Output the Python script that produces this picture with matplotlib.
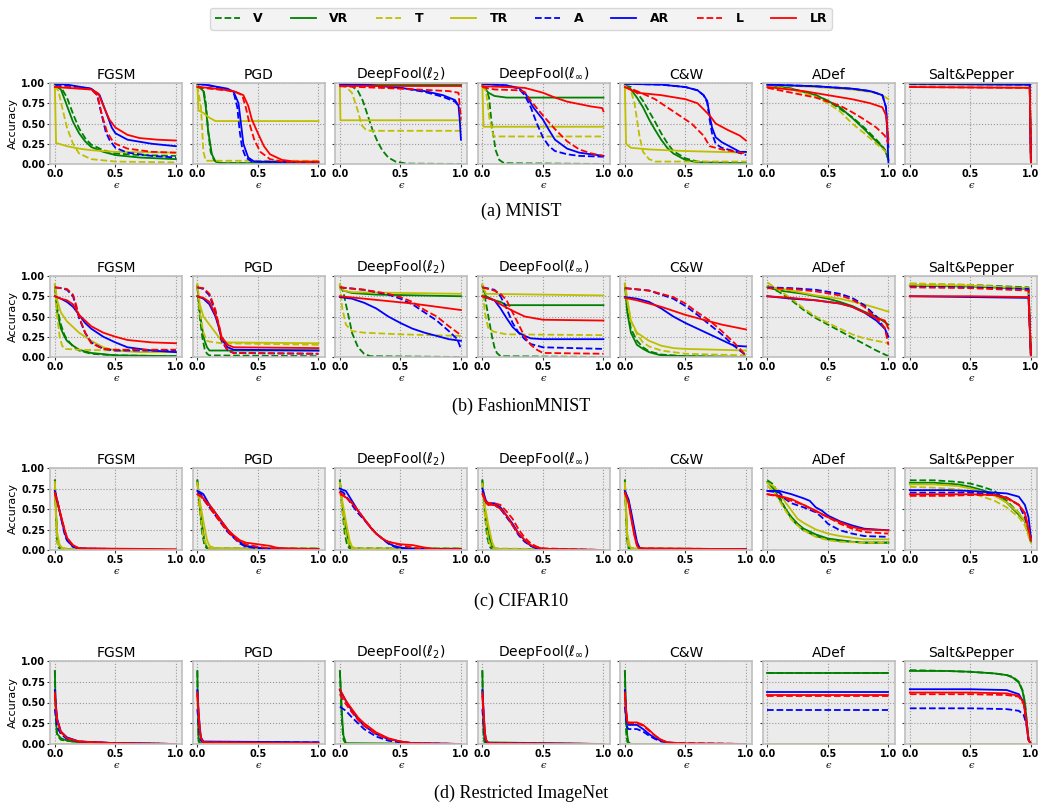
import numpy as np
import matplotlib
matplotlib.use("Agg")
import matplotlib.pyplot as plt
from matplotlib.lines import Line2D

# ---------------- data (knots: x0,y0,x1,y1,...) ----------------
series = ['V', 'VR', 'T', 'TR', 'A', 'AR', 'L', 'LR']
attacks = ['FGSM', 'PGD', r'DeepFool($\ell_2$)', r'DeepFool($\ell_\infty$)', 'C&W', 'ADef', 'Salt&Pepper']
captions = ['(a) MNIST', '(b) FashionMNIST', '(c) CIFAR10', '(d) Restricted ImageNet']

# ---- MNIST ----
mn_fgsm = dict(
    V=[0,.97, .05,.95, .1,.82, .15,.62, .2,.44, .25,.32, .3,.24, .4,.17, .5,.13, .7,.11, 1,.1],
    VR=[0,.97, .05,.92, .1,.72, .15,.52, .2,.38, .25,.28, .3,.21, .4,.15, .5,.11, .7,.08, 1,.06],
    T=[0,.97, .03,.9, .06,.7, .1,.45, .15,.25, .2,.13, .3,.06, .5,.03, 1,.02],
    TR=[0,.97, .01,.26, .1,.22, .2,.19, .3,.17, .5,.15, 1,.14],
    A=[0,.98, .1,.97, .3,.93, .35,.85, .38,.65, .42,.4, .45,.3, .5,.2, .6,.14, .8,.1, 1,.08],
    AR=[0,.99, .1,.98, .3,.93, .37,.85, .42,.65, .47,.45, .5,.38, .6,.3, .8,.25, 1,.22],
    L=[0,.95, .1,.95, .3,.92, .35,.85, .39,.6, .43,.4, .47,.3, .5,.25, .6,.19, .8,.15, 1,.14],
    LR=[0,.95, .1,.94, .3,.92, .36,.87, .4,.72, .45,.55, .5,.45, .6,.36, .7,.32, .85,.3, 1,.29])
mn_pgd = dict(
    V=[0,.97, .05,.93, .07,.75, .09,.4, .11,.15, .14,.04, .2,.01, 1,.01],
    VR=[0,.97, .05,.9, .07,.7, .09,.4, .12,.12, .15,.03, .2,.01, 1,.01],
    T=[0,.97, .03,.7, .05,.15, .07,.04, 1,.04],
    TR=[0,.97, .01,.66, .05,.63, .1,.57, .15,.53, .2,.53, 1,.53],
    A=[0,.99, .1,.97, .25,.92, .3,.88, .33,.7, .35,.4, .37,.2, .4,.08, .45,.03, 1,.02],
    AR=[0,.99, .1,.97, .25,.93, .3,.89, .34,.75, .36,.5, .38,.25, .42,.08, .47,.03, 1,.02],
    L=[0,.95, .1,.93, .3,.9, .37,.85, .4,.7, .43,.5, .47,.3, .52,.15, .6,.06, .7,.03, 1,.02],
    LR=[0,.95, .1,.94, .3,.9, .38,.85, .42,.72, .45,.55, .5,.38, .55,.22, .6,.12, .7,.05, .8,.03, 1,.03])
mn_df2 = dict(
    V=[0,.97, .1,.96, .15,.9, .19,.78, .23,.6, .27,.42, .31,.28, .35,.17, .4,.08, .46,.03, .55,.005, 1,0],
    VR=[0,.97, 1,.97],
    T=[0,.97, .05,.95, .1,.88, .15,.65, .18,.48, .21,.43, .25,.41, 1,.41],
    TR=[0,.97, .005,.54, 1,.54],
    A=[0,.98, .2,.97, .5,.94, .7,.89, .85,.83, .95,.77, .98,.72, 1,.6],
    AR=[0,.99, .2,.98, .5,.94, .7,.9, .85,.85, .95,.79, .98,.72, .99,.55, 1,.3],
    L=[0,.96, .5,.93, .9,.9, .98,.88, 1,.55],
    LR=[0,.96, 1,.96])
mn_dfi = dict(
    V=[0,.97, .03,.93, .055,.82, .08,.46, .11,.17, .14,.05, .18,.01, 1,0],
    VR=[0,.97, .05,.88, .1,.84, .15,.83, .2,.82, 1,.82],
    T=[0,.97, .03,.9, .06,.55, .09,.36, .1,.34, 1,.34],
    TR=[0,.97, .01,.46, 1,.46],
    A=[0,.99, .2,.97, .3,.93, .35,.85, .4,.7, .45,.5, .5,.33, .55,.22, .6,.16, .7,.12, .8,.1, 1,.09],
    AR=[0,.99, .2,.97, .3,.94, .36,.86, .42,.7, .5,.55, .55,.42, .6,.3, .7,.19, .8,.14, .9,.12, 1,.1],
    L=[0,.95, .1,.92, .3,.91, .35,.89, .4,.78, .5,.6, .6,.43, .7,.28, .8,.18, .9,.13, 1,.1],
    LR=[0,.96, .2,.95, .35,.94, .5,.88, .6,.82, .7,.77, .8,.74, .9,.71, .99,.69, 1,.65])
mn_cw = dict(
    V=[0,.97, .05,.95, .1,.88, .15,.78, .2,.65, .25,.52, .3,.38, .35,.26, .4,.16, .5,.07, .6,.03, 1,.01],
    VR=[0,.97, .05,.92, .1,.82, .15,.7, .2,.55, .25,.42, .3,.3, .35,.2, .4,.13, .5,.05, .6,.02, 1,.01],
    T=[0,.97, .05,.9, .08,.75, .1,.55, .12,.35, .15,.15, .2,.06, .25,.03, 1,.03],
    TR=[0,.97, .01,.25, .05,.2, .2,.18, .5,.16, 1,.14],
    A=[0,.99, .3,.98, .5,.95, .6,.91, .65,.85, .68,.76, .7,.55, .72,.38, .75,.25, .8,.2, .9,.16, 1,.11],
    AR=[0,.99, .3,.98, .5,.95, .6,.91, .65,.85, .68,.78, .7,.6, .72,.45, .75,.33, .8,.27, .9,.19, .95,.15, 1,.15],
    L=[0,.95, .1,.9, .25,.8, .4,.65, .55,.5, .65,.35, .7,.22, .8,.18, 1,.13],
    LR=[0,.95, .1,.88, .3,.85, .5,.8, .6,.75, .7,.6, .75,.5, .85,.42, .95,.35, 1,.29])
mn_adef = dict(
    V=[0,.98, .2,.93, .4,.85, .5,.78, .6,.68, .7,.58, .8,.45, .9,.3, .95,.22, .98,.15, 1,.05],
    VR=[0,.98, .2,.93, .4,.85, .5,.78, .6,.7, .7,.57, .8,.43, .9,.28, .97,.18, 1,.05],
    T=[0,.97, .2,.92, .4,.83, .5,.75, .6,.65, .7,.5, .8,.38, .9,.25, .98,.15, 1,.1],
    TR=[0,.98, .4,.95, .7,.92, .9,.88, .98,.82, 1,.8],
    A=[0,.98, .4,.96, .7,.93, .85,.9, .95,.85, .98,.7, 1,.2],
    AR=[0,.98, .4,.96, .7,.93, .85,.9, .95,.85, .98,.7, .99,.4, 1,0],
    L=[0,.94, .2,.88, .4,.82, .6,.72, .7,.64, .8,.55, .9,.45, .97,.35, 1,.25],
    LR=[0,.95, .3,.9, .5,.85, .7,.8, .85,.75, .95,.7, .98,.6, 1,.3])
mn_sp = dict(
    V=[0,.99, .99,.98, 1,0], VR=[0,.99, .99,.98, 1,0],
    T=[0,.98, .99,.97, 1,0], TR=[0,.98, .99,.97, 1,0],
    A=[0,.99, .99,.98, 1,0], AR=[0,.99, .99,.98, 1,0],
    L=[0,.95, .99,.94, 1,0], LR=[0,.95, .99,.94, 1,0])

# ---- FashionMNIST ----
fm_fgsm = dict(
    V=[0,.88, .02,.6, .05,.4, .08,.27, .1,.22, .15,.13, .2,.08, .3,.04, .5,.02, 1,.01],
    VR=[0,.88, .02,.55, .05,.35, .08,.25, .1,.2, .15,.14, .2,.09, .3,.05, .5,.02, 1,.01],
    T=[0,.9, .02,.5, .04,.25, .06,.14, .08,.1, .2,.09, .5,.08, 1,.07],
    TR=[0,.9, .02,.7, .05,.55, .1,.44, .15,.37, .2,.3, .3,.2, .4,.12, .5,.08, .7,.06, 1,.06],
    A=[0,.86, .05,.85, .1,.83, .15,.75, .18,.6, .2,.48, .25,.3, .3,.18, .4,.1, .5,.08, 1,.08],
    AR=[0,.75, .05,.72, .1,.68, .15,.62, .2,.52, .25,.42, .3,.35, .4,.25, .5,.18, .6,.12, .8,.08, 1,.06],
    L=[0,.86, .05,.85, .1,.84, .15,.77, .18,.62, .2,.5, .25,.3, .3,.17, .4,.1, .5,.09, 1,.09],
    LR=[0,.75, .05,.72, .1,.7, .15,.65, .2,.52, .25,.45, .3,.38, .4,.3, .5,.25, .6,.21, .8,.18, 1,.17])
fm_pgd = dict(
    V=[0,.88, .02,.5, .04,.25, .06,.1, .08,.04, .1,.02, 1,.01],
    VR=[0,.88, .02,.55, .04,.35, .06,.2, .08,.12, .1,.08, .15,.08, 1,.08],
    T=[0,.9, .02,.55, .05,.3, .08,.2, .1,.19, .2,.17, 1,.15],
    TR=[0,.9, .02,.65, .05,.5, .1,.4, .15,.3, .2,.2, .25,.18, 1,.17],
    A=[0,.86, .05,.84, .1,.76, .15,.55, .18,.35, .2,.2, .25,.08, .3,.05, 1,.04],
    AR=[0,.75, .05,.72, .1,.65, .15,.5, .18,.35, .2,.22, .25,.12, .3,.09, 1,.08],
    L=[0,.86, .05,.85, .1,.78, .15,.58, .18,.38, .2,.22, .25,.08, .3,.05, 1,.04],
    LR=[0,.75, .05,.73, .1,.68, .15,.52, .18,.38, .2,.25, .25,.15, .3,.12, 1,.11])
fm_df2 = dict(
    V=[0,.88, .03,.8, .05,.65, .08,.45, .1,.3, .15,.12, .2,.04, .25,.01, 1,0],
    VR=[0,.88, .03,.82, .1,.79, .3,.77, 1,.75],
    T=[0,.9, .02,.6, .05,.4, .1,.32, .2,.3, .5,.28, 1,.26],
    TR=[0,.9, .03,.82, .1,.8, 1,.78],
    A=[0,.86, .2,.83, .4,.77, .5,.72, .6,.65, .7,.55, .8,.45, .9,.32, .97,.22, 1,.1],
    AR=[0,.74, .1,.72, .2,.67, .3,.6, .4,.5, .5,.42, .6,.35, .7,.3, .8,.26, .9,.22, 1,.2],
    L=[0,.86, .2,.83, .4,.78, .5,.74, .6,.68, .7,.58, .8,.5, .9,.38, 1,.27],
    LR=[0,.75, .2,.72, .4,.69, .6,.66, .8,.62, 1,.58])
fm_dfi = dict(
    V=[0,.88, .02,.75, .05,.5, .08,.25, .1,.12, .12,.05, .15,.01, 1,0],
    VR=[0,.88, .03,.75, .1,.7, .15,.68, .2,.64, 1,.64],
    T=[0,.9, .02,.55, .05,.35, .1,.31, .2,.28, 1,.27],
    TR=[0,.9, .03,.78, 1,.76],
    A=[0,.86, .1,.83, .15,.75, .2,.6, .25,.42, .3,.3, .35,.22, .4,.16, .5,.12, 1,.1],
    AR=[0,.75, .1,.7, .15,.6, .2,.48, .25,.37, .3,.3, .35,.26, .4,.23, .5,.22, 1,.22],
    L=[0,.86, .1,.82, .15,.78, .2,.7, .25,.55, .3,.4, .35,.25, .4,.15, .45,.09, .5,.05, 1,.04],
    LR=[0,.75, .1,.7, .15,.65, .25,.57, .35,.5, .5,.46, 1,.45])
fm_cw = dict(
    V=[0,.9, .02,.6, .05,.35, .1,.2, .15,.12, .2,.07, .3,.03, .5,.01, 1,0],
    VR=[0,.9, .02,.55, .05,.3, .1,.15, .15,.1, .2,.06, .3,.02, .5,.01, 1,0],
    T=[0,.92, .02,.7, .05,.45, .1,.28, .15,.18, .2,.13, .3,.08, .5,.04, 1,.02],
    TR=[0,.9, .02,.7, .05,.45, .1,.3, .2,.2, .3,.14, .4,.11, .5,.1, 1,.08],
    A=[0,.85, .2,.82, .4,.72, .5,.63, .6,.52, .7,.4, .8,.28, .9,.14, 1,.02],
    AR=[0,.74, .1,.72, .2,.68, .3,.6, .4,.5, .5,.42, .6,.35, .7,.28, .8,.21, .9,.14, 1,.13],
    L=[0,.85, .2,.82, .4,.74, .5,.66, .6,.55, .7,.45, .8,.32, .9,.18, 1,.02],
    LR=[0,.73, .1,.7, .2,.66, .3,.62, .4,.57, .5,.52, .6,.48, .7,.44, .8,.4, .9,.37, 1,.34])
fm_adef = dict(
    V=[0,.88, .1,.8, .2,.7, .3,.58, .4,.48, .5,.4, .6,.32, .7,.24, .8,.16, .9,.08, 1,.01],
    VR=[0,.86, .1,.82, .3,.78, .5,.72, .6,.68, .7,.63, .8,.56, .9,.5, 1,.4],
    T=[0,.92, .1,.82, .2,.72, .3,.6, .4,.5, .5,.42, .6,.35, .7,.28, .8,.23, .9,.2, 1,.17],
    TR=[0,.87, .2,.82, .4,.76, .6,.72, .8,.65, 1,.56],
    A=[0,.86, .2,.85, .4,.83, .6,.78, .7,.73, .8,.64, .9,.5, .97,.35, 1,.22],
    AR=[0,.75, .2,.72, .4,.7, .6,.66, .7,.62, .8,.55, .9,.45, .97,.35, 1,.25],
    L=[0,.85, .2,.84, .4,.81, .6,.76, .7,.71, .8,.62, .9,.48, .97,.36, 1,.15],
    LR=[0,.75, .2,.73, .4,.7, .6,.66, .7,.62, .8,.55, .9,.48, .97,.45, 1,.35])
fm_sp = dict(
    V=[0,.9, .5,.89, .98,.86, 1,0], VR=[0,.88, .5,.87, .98,.84, 1,0],
    T=[0,.91, .5,.89, .98,.84, 1,0], TR=[0,.89, .5,.88, .98,.85, 1,0],
    A=[0,.87, .5,.86, .98,.84, 1,0], AR=[0,.75, .5,.74, .98,.73, 1,0],
    L=[0,.86, .5,.85, .98,.82, 1,0], LR=[0,.75, .5,.75, .98,.74, 1,0])

# ---- CIFAR10 ----
cf_fgsm = dict(
    V=[0,.85, .01,.4, .02,.1, .03,.03, .05,.01, 1,0],
    VR=[0,.85, .01,.45, .02,.15, .04,.05, .06,.02, .1,.01, 1,0],
    T=[0,.82, .01,.35, .02,.1, .04,.02, 1,0],
    TR=[0,.83, .01,.45, .02,.2, .04,.06, .06,.03, .1,.01, 1,0],
    A=[0,.72, .02,.6, .05,.4, .08,.2, .1,.12, .15,.04, .2,.02, 1,0],
    AR=[0,.72, .02,.6, .05,.4, .08,.22, .1,.12, .15,.04, .2,.02, .3,.01, 1,0],
    L=[0,.68, .02,.58, .05,.42, .08,.25, .1,.15, .15,.05, .2,.02, 1,0],
    LR=[0,.7, .02,.6, .05,.42, .08,.25, .1,.15, .15,.06, .2,.02, 1,.01])
cf_pgd = dict(
    V=[0,.85, .02,.5, .04,.2, .06,.05, .08,.02, 1,.02],
    VR=[0,.85, .02,.55, .04,.3, .06,.1, .08,.03, .1,.01, 1,.01],
    T=[0,.83, .02,.5, .05,.15, .08,.04, .1,.02, 1,.02],
    TR=[0,.82, .02,.6, .05,.35, .08,.12, .1,.05, .15,.02, 1,.01],
    A=[0,.7, .03,.68, .05,.62, .1,.52, .15,.42, .2,.32, .25,.22, .3,.15, .35,.08, .4,.04, .5,.02, 1,.01],
    AR=[0,.72, .03,.7, .05,.68, .1,.55, .15,.45, .2,.35, .25,.25, .3,.16, .35,.1, .4,.05, .5,.03, .6,.01, 1,.01],
    L=[0,.68, .03,.65, .05,.62, .1,.52, .15,.42, .2,.32, .25,.23, .3,.15, .35,.1, .4,.07, .5,.04, .6,.02, 1,.01],
    LR=[0,.68, .03,.66, .1,.55, .15,.45, .2,.35, .25,.25, .3,.18, .35,.12, .4,.09, .5,.07, .6,.05, .65,.03, .7,.02, 1,.01])
cf_df2 = dict(
    V=[0,.85, .02,.5, .04,.2, .06,.06, .08,.02, 1,.02],
    VR=[0,.85, .02,.55, .05,.25, .08,.05, .1,.01, 1,.01],
    T=[0,.83, .02,.5, .05,.2, .08,.05, .1,.02, 1,.02],
    TR=[0,.8, .02,.6, .05,.35, .08,.12, .1,.04, .15,.01, 1,.01],
    A=[0,.72, .03,.7, .05,.66, .1,.55, .15,.45, .2,.37, .25,.28, .3,.2, .35,.14, .4,.08, .45,.04, .5,.02, 1,.01],
    AR=[0,.75, .03,.73, .05,.72, .1,.6, .15,.48, .2,.38, .25,.28, .3,.2, .35,.14, .4,.08, .45,.05, .5,.03, .6,.01, 1,.01],
    L=[0,.68, .03,.66, .1,.58, .15,.48, .2,.38, .25,.29, .3,.2, .35,.14, .4,.1, .5,.06, .6,.03, .7,.01, 1,.01],
    LR=[0,.7, .03,.67, .1,.57, .15,.48, .2,.38, .25,.28, .3,.2, .35,.14, .4,.1, .5,.07, .6,.06, .7,.03, .8,.01, 1,.01])
cf_dfi = dict(
    V=[0,.85, .02,.45, .04,.15, .06,.04, .08,.01, 1,0],
    VR=[0,.85, .02,.5, .05,.2, .08,.04, .1,.01, 1,0],
    T=[0,.82, .02,.45, .05,.12, .08,.02, 1,0],
    TR=[0,.8, .02,.55, .05,.3, .08,.1, .1,.03, .15,.01, 1,0],
    A=[0,.72, .03,.58, .05,.55, .1,.55, .15,.5, .2,.4, .25,.3, .3,.18, .35,.1, .4,.05, .45,.02, .5,0, 1,0],
    AR=[0,.75, .03,.6, .05,.57, .1,.57, .15,.52, .2,.42, .25,.32, .3,.2, .35,.12, .4,.05, .45,.02, .5,.01, 1,0],
    L=[0,.7, .03,.6, .05,.57, .1,.57, .15,.55, .2,.47, .25,.38, .3,.25, .35,.15, .4,.08, .45,.04, .5,.02, 1,0],
    LR=[0,.68, .03,.58, .05,.55, .1,.55, .15,.5, .2,.42, .25,.3, .3,.2, .35,.12, .4,.06, .45,.03, .55,.01, 1,0])
cf_cw = dict(
    V=[0,.85, .01,.4, .02,.1, .03,.02, 1,.01],
    VR=[0,.85, .01,.5, .02,.15, .03,.04, .05,.01, 1,.01],
    T=[0,.82, .01,.4, .02,.1, .04,.02, 1,.01],
    TR=[0,.82, .01,.5, .02,.2, .04,.05, .06,.01, 1,.01],
    A=[0,.72, .03,.6, .05,.45, .08,.2, .1,.08, .12,.03, .15,.01, 1,.01],
    AR=[0,.72, .03,.62, .05,.48, .08,.25, .1,.1, .12,.03, .15,.01, 1,.01],
    L=[0,.7, .03,.58, .05,.42, .08,.18, .1,.06, .12,.02, 1,.01],
    LR=[0,.7, .03,.58, .05,.4, .08,.17, .1,.05, .12,.02, 1,.01])
cf_adef = dict(
    V=[0,.85, .05,.8, .1,.65, .15,.5, .2,.38, .25,.3, .3,.24, .4,.17, .5,.13, .6,.11, .7,.1, .8,.09, 1,.09],
    VR=[0,.83, .05,.75, .1,.62, .15,.5, .2,.4, .25,.32, .3,.26, .4,.19, .5,.14, .6,.12, .7,.1, .8,.09, 1,.09],
    T=[0,.78, .05,.72, .1,.6, .15,.48, .2,.37, .25,.3, .3,.24, .4,.16, .5,.12, .6,.1, .8,.09, 1,.09],
    TR=[0,.82, .05,.78, .1,.7, .15,.58, .2,.48, .25,.38, .3,.33, .4,.25, .5,.2, .6,.17, .7,.15, .8,.13, 1,.13],
    A=[0,.72, .1,.7, .15,.62, .2,.57, .3,.52, .4,.46, .45,.4, .5,.32, .55,.28, .6,.24, .7,.2, .8,.17, 1,.16],
    AR=[0,.72, .1,.72, .2,.68, .3,.63, .35,.6, .4,.52, .45,.48, .5,.42, .6,.35, .7,.3, .8,.26, 1,.24],
    L=[0,.68, .1,.65, .2,.6, .3,.55, .4,.47, .5,.4, .6,.32, .7,.26, .8,.22, 1,.2],
    LR=[0,.68, .1,.66, .2,.62, .3,.55, .4,.48, .5,.4, .6,.34, .7,.28, .8,.25, 1,.24])
cf_sp = dict(
    V=[0,.85, .2,.85, .4,.83, .5,.81, .6,.77, .7,.72, .8,.6, .9,.45, .95,.35, 1,.1],
    VR=[0,.82, .2,.82, .4,.8, .5,.77, .6,.73, .7,.68, .8,.58, .9,.43, .95,.35, 1,.1],
    T=[0,.77, .2,.76, .4,.74, .5,.7, .6,.65, .7,.6, .8,.52, .9,.4, .95,.3, 1,.08],
    TR=[0,.8, .2,.8, .4,.78, .5,.75, .6,.71, .7,.66, .8,.58, .9,.45, .95,.35, 1,.12],
    A=[0,.7, .3,.7, .5,.7, .7,.68, .8,.64, .9,.55, .95,.4, 1,.15],
    AR=[0,.73, .3,.73, .5,.72, .7,.7, .8,.69, .9,.65, .95,.55, .98,.4, 1,.15],
    L=[0,.66, .3,.66, .5,.67, .7,.67, .8,.63, .9,.55, .95,.45, 1,.12],
    LR=[0,.68, .3,.68, .5,.68, .7,.67, .8,.64, .9,.55, .95,.45, 1,.12])

# ---- Restricted ImageNet ----
im_fgsm = dict(
    V=[0,.88, .005,.5, .01,.2, .02,.1, .05,.05, .1,.04, .2,.02, .5,.01, 1,0],
    VR=[0,.88, .005,.55, .01,.25, .02,.12, .05,.07, .1,.04, .2,.02, .5,.01, 1,0],
    T=[0,.005, 1,.005], TR=[0,.005, 1,.005],
    A=[0,.42, .01,.3, .02,.2, .05,.12, .1,.06, .2,.03, .5,.01, 1,0],
    AR=[0,.65, .01,.45, .02,.3, .05,.15, .1,.08, .2,.03, .5,.01, 1,0],
    L=[0,.6, .01,.4, .02,.28, .05,.15, .1,.07, .2,.03, .5,.01, 1,0],
    LR=[0,.62, .01,.42, .02,.28, .05,.14, .1,.07, .2,.03, .5,.01, 1,0])
im_pgd = dict(
    V=[0,.88, .005,.3, .01,.05, .02,0, 1,0],
    VR=[0,.88, .005,.35, .01,.07, .02,.01, 1,.01],
    T=[0,.005, 1,.005], TR=[0,.005, 1,.005],
    A=[0,.42, .01,.25, .02,.1, .03,.04, .05,.02, 1,.02],
    AR=[0,.65, .01,.4, .02,.2, .03,.08, .05,.03, 1,.02],
    L=[0,.6, .01,.35, .02,.15, .03,.06, .05,.02, 1,.01],
    LR=[0,.62, .01,.38, .02,.18, .03,.07, .05,.02, 1,.01])
im_df2 = dict(
    V=[0,.88, .01,.5, .02,.2, .03,.05, .05,0, 1,0],
    VR=[0,.88, .01,.6, .02,.3, .03,.1, .05,.01, 1,0],
    T=[0,.005, 1,.005], TR=[0,.005, 1,.005],
    A=[0,.45, .05,.4, .1,.32, .15,.25, .2,.18, .3,.09, .4,.04, .5,.02, .6,.01, 1,0],
    AR=[0,.65, .05,.52, .1,.4, .15,.3, .2,.22, .3,.12, .4,.06, .5,.03, .6,.01, 1,0],
    L=[0,.6, .05,.48, .1,.38, .15,.29, .2,.22, .3,.12, .4,.06, .5,.03, .6,.01, 1,0],
    LR=[0,.66, .05,.52, .1,.42, .15,.32, .2,.25, .3,.14, .4,.07, .5,.03, .6,.01, 1,0])
im_dfi = dict(
    V=[0,.88, .005,.4, .01,.1, .02,0, 1,0],
    VR=[0,.88, .005,.5, .01,.15, .02,.02, 1,0],
    T=[0,.005, 1,.005], TR=[0,.005, 1,.005],
    A=[0,.42, .01,.25, .02,.1, .03,.03, .05,.01, 1,0],
    AR=[0,.65, .01,.4, .02,.15, .03,.05, .05,.01, 1,0],
    L=[0,.58, .01,.35, .02,.12, .03,.04, .05,.01, 1,0],
    LR=[0,.62, .01,.4, .02,.15, .03,.05, .05,.01, 1,0])
im_cw = dict(
    V=[0,.88, .005,.5, .01,.15, .02,.03, .03,0, 1,0],
    VR=[0,.88, .01,.4, .02,.1, .03,.02, .05,0, 1,0],
    T=[0,.005, 1,.005], TR=[0,.005, 1,.005],
    A=[0,.45, .01,.3, .02,.2, .03,.18, .1,.18, .15,.15, .2,.1, .25,.06, .3,.03, .4,.01, 1,0],
    AR=[0,.65, .01,.4, .02,.25, .03,.23, .1,.23, .15,.18, .2,.12, .25,.07, .3,.04, .35,.02, .45,0, 1,0],
    L=[0,.6, .01,.4, .02,.26, .03,.25, .1,.25, .15,.22, .2,.16, .25,.1, .3,.05, .35,.02, .45,.01, 1,0],
    LR=[0,.62, .01,.42, .02,.27, .03,.26, .1,.26, .15,.23, .2,.17, .25,.1, .3,.05, .35,.02, .45,.01, 1,0])
im_adef = dict(
    V=[0,.86, 1,.86], VR=[0,.85, 1,.85],
    T=[0,.005, 1,.005], TR=[0,.005, 1,.005],
    A=[0,.41, 1,.41], AR=[0,.63, 1,.63],
    L=[0,.58, 1,.58], LR=[0,.59, 1,.59])
im_sp = dict(
    V=[0,.89, .3,.88, .5,.87, .7,.85, .8,.83, .85,.81, .9,.75, .93,.65, .95,.5, .97,.2, .98,.05, 1,0],
    VR=[0,.88, .3,.88, .5,.87, .7,.85, .8,.83, .85,.8, .9,.74, .93,.64, .95,.5, .97,.2, .98,.05, 1,0],
    T=[0,.005, 1,.005], TR=[0,.005, 1,.005],
    A=[0,.43, .5,.43, .8,.42, .9,.4, .94,.35, .96,.25, .98,.05, 1,0],
    AR=[0,.66, .5,.66, .8,.65, .9,.6, .94,.5, .96,.3, .98,.05, 1,0],
    L=[0,.6, .5,.6, .8,.59, .9,.57, .94,.48, .96,.3, .98,.05, 1,0],
    LR=[0,.62, .5,.62, .8,.61, .9,.58, .94,.5, .96,.3, .98,.05, 1,0])

rows = [
    [mn_fgsm, mn_pgd, mn_df2, mn_dfi, mn_cw, mn_adef, mn_sp],
    [fm_fgsm, fm_pgd, fm_df2, fm_dfi, fm_cw, fm_adef, fm_sp],
    [cf_fgsm, cf_pgd, cf_df2, cf_dfi, cf_cw, cf_adef, cf_sp],
    [im_fgsm, im_pgd, im_df2, im_dfi, im_cw, im_adef, im_sp],
]

# ---------------- styling ----------------
colors = {'V': 'g', 'VR': 'g', 'T': 'y', 'TR': 'y', 'A': 'b', 'AR': 'b', 'L': 'r', 'LR': 'r'}
styles = {s: ('--' if len(s) == 1 else '-') for s in series}

W, H = 1042, 808
fig = plt.figure(figsize=(W / 100, H / 100), dpi=100)

ax_left0 = 50
ax_w = 132
ax_gap = 10.5
row_tb = [(83, 164), (276, 357), (468, 550), (661, 744)]
cap_y = [211, 406, 601, 793]

for r, row in enumerate(rows):
    top, bot = row_tb[r]
    for c, panel in enumerate(row):
        x0 = ax_left0 + c * (ax_w + ax_gap)
        ax = fig.add_axes([x0 / W, 1 - bot / H, ax_w / W, (bot - top) / H])
        ax.set_facecolor('#ebebeb')
        for sp in ax.spines.values():
            sp.set_color('#bfbfbf')
            sp.set_linewidth(1.2)
        ax.grid(True, linestyle=':', color='#999999', linewidth=0.8)
        ax.set_axisbelow(True)
        for s in series:
            k = panel[s]
            ax.plot(k[0::2], k[1::2], color=colors[s], linestyle=styles[s], linewidth=1.3)
        ax.set_xlim(-0.04, 1.05)
        ax.set_ylim(0, 1.0)
        ax.set_xticks([0, 0.5, 1.0])
        ax.set_yticks([0, 0.25, 0.5, 0.75, 1.0])
        ax.set_xticklabels(['0.0', '0.5', '1.0'], fontweight='bold', fontsize=7)
        if c == 0:
            ax.set_yticklabels(['0.00', '0.25', '0.50', '0.75', '1.00'], fontweight='bold', fontsize=7)
            ax.set_ylabel('Accuracy', fontsize=8, labelpad=2)
        else:
            ax.set_yticklabels([])
        ax.tick_params(axis='both', length=2, width=0.8, pad=1.5, color='#333333')
        ax.set_xlabel('ϵ', fontsize=7, labelpad=1.5, family='DejaVu Serif', style='italic')
        ax.set_title(attacks[c], fontsize=10, pad=3)
    fig.text(0.5, 1 - cap_y[r] / H, captions[r], ha='center', va='center',
             fontsize=13, family='Liberation Serif')

handles = [Line2D([], [], color=colors[s], linestyle=styles[s], linewidth=1.3) for s in series]
leg = fig.legend(handles, series, loc='upper center', bbox_to_anchor=(0.5, 0.998), ncol=8,
                 prop={'weight': 'bold', 'size': 9}, frameon=True, fancybox=True,
                 handlelength=2.0, columnspacing=2.2, handletextpad=1.1,
                 borderpad=0.35)
leg.get_frame().set_facecolor('#f0f0f0')
leg.get_frame().set_edgecolor('#d0d0d0')

fig.savefig('out.png', dpi=100)
